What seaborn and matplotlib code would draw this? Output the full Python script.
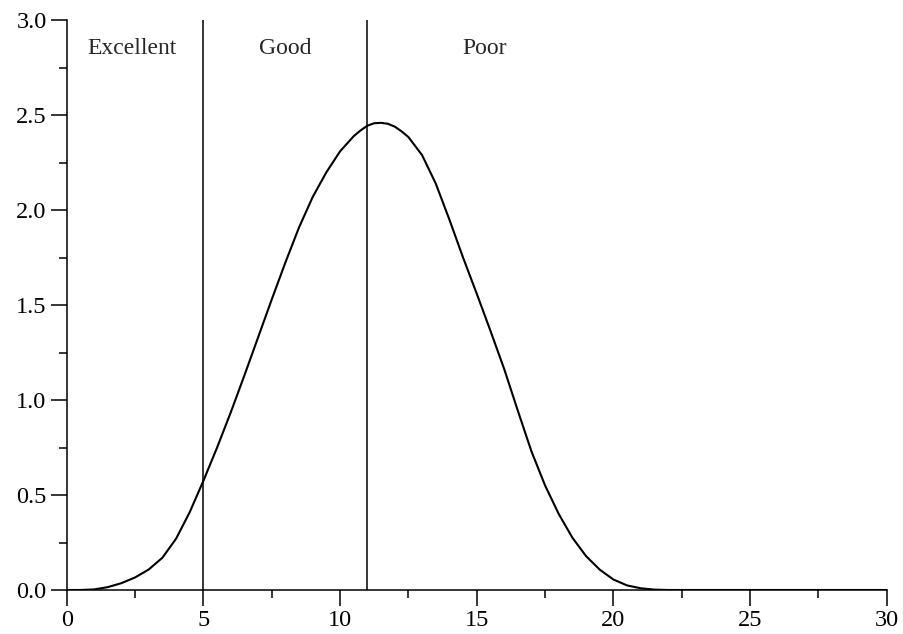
import numpy as np
import pandas as pd
from matplotlib import pyplot as plt
from matplotlib.ticker import MultipleLocator
import seaborn as sns

# values
x_vals = [0.0, 0.5, 1.0, 1.5, 2.0, 2.5, 3.0, 3.5, 4.0, 4.5, 5.0, 5.5, 6.0, 6.5,
          7.0, 7.5, 8.0, 8.5, 9.0, 9.5, 10.0, 10.5, 10.75, 11.0, 11.25, 11.5,
          11.75, 12.0, 12.25, 12.5, 13.0, 13.5, 14.0, 14.5, 15.0, 15.5, 16.0,
          16.5, 17.0, 17.5, 18.0, 18.5, 19.0, 19.5, 20.0, 20.5, 21.0, 21.5,
          22.0, 30.0]
y_vals = [0.0, 0.0, 0.003, 0.015, 0.036, 0.066, 0.108, 0.17, 0.27, 0.41, 0.575,
          0.75, 0.935, 1.13, 1.33, 1.53, 1.725, 1.91, 2.07, 2.2, 2.31, 2.39,
          2.42, 2.445, 2.458, 2.46, 2.455, 2.44, 2.415, 2.385, 2.29, 2.14,
          1.95, 1.75, 1.56, 1.365, 1.165, 0.945, 0.73, 0.55, 0.40, 0.275,
          0.178, 0.107, 0.055, 0.024, 0.009, 0.002, 0.0, 0.0]

boundaries = [5, 11]
region_labels = ["Excellent", "Good", "Poor"]
label_x = [2.4, 8.0, 15.3]
label_y = 2.85


def main():
    sns.set_style("ticks")
    plt.rcParams['font.family'] = ['Liberation Serif', 'DejaVu Serif']

    fig = plt.figure(figsize=(9.04, 6.34), dpi=100)
    ax = fig.add_axes([0.0738, 0.0694, 0.9072, 0.8986])

    df = pd.DataFrame({'x': x_vals, 'y': y_vals})
    sns.lineplot(data=df, x='x', y='y', ax=ax, color='black', linewidth=1.5)

    for b in boundaries:
        ax.plot([b, b], [0, 3.0], color='black', linewidth=1.1)

    for lab, lx in zip(region_labels, label_x):
        ax.text(lx, label_y, lab, ha='center', va='center', fontsize=17)

    ax.set_xlim(0, 30)
    ax.set_ylim(0, 3.0)
    ax.xaxis.set_major_locator(MultipleLocator(5))
    ax.xaxis.set_minor_locator(MultipleLocator(2.5))
    ax.yaxis.set_major_locator(MultipleLocator(0.5))
    ax.yaxis.set_minor_locator(MultipleLocator(0.25))
    ax.yaxis.set_major_formatter(plt.FormatStrFormatter('%.1f'))
    ax.set_xlabel('')
    ax.set_ylabel('')
    sns.despine(ax=ax)
    for s in ['left', 'bottom']:
        ax.spines[s].set_linewidth(1.1)
        ax.spines[s].set_color('black')
    ax.tick_params(which='major', length=11.5, width=1.1, labelsize=17.5,
                   colors='black', pad=3)
    ax.tick_params(which='minor', length=5.5, width=1.1, colors='black')

    fig.savefig('out.png', dpi=100)


if __name__ == '__main__':
    main()
